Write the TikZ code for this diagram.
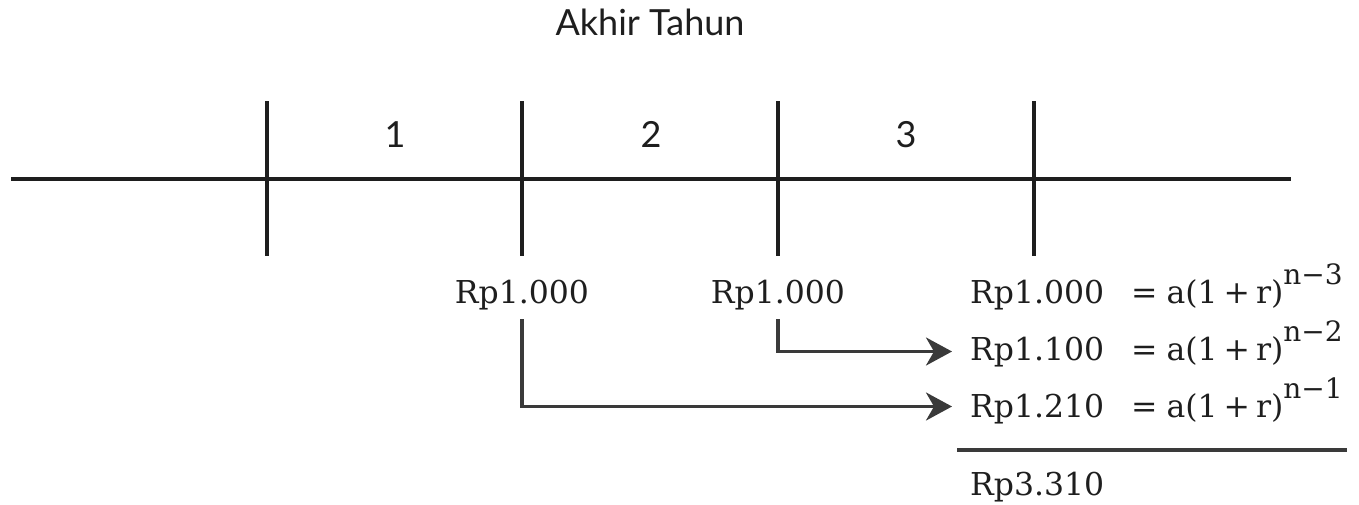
\documentclass[tikz,border=0pt]{standalone}
\usepackage{fontspec}
\usetikzlibrary{arrows.meta}
\newfontfamily\latof{Lato}
\newfontfamily\rpf{DejaVu Serif}
\definecolor{lin}{HTML}{1E1E1E}
\definecolor{arr}{HTML}{3A3A3A}
\definecolor{txt}{HTML}{1E1E1E}
\newcommand{\supx}[1]{\raisebox{19pt}{\fontsize{28}{28}\selectfont #1}}
\begin{document}
\begin{tikzpicture}[x=1pt,y=-1pt,
  tl/.style={line width=3.2pt,draw=lin},
  conn/.style={line width=3.2pt,draw=arr,-{Stealth[length=26pt,width=28pt,inset=8pt]}},
  head/.style={font=\latof\fontsize{36}{36}\selectfont,text=txt,inner sep=0,anchor=base},
  val/.style={font=\rpf\fontsize{31.5}{31.5}\selectfont,text=txt,inner sep=0,text height=23pt,text depth=0pt,anchor=base west},
  valc/.style={val,anchor=base},
  eq/.style={font=\rpf\fontsize{31.5}{31.5}\selectfont,text=txt,inner sep=0,anchor=base west}]
\useasboundingbox (0,0) rectangle (1359,504);
% title
\node[head] (title) at (650,35) {Akhir Tahun};
% timeline
\coordinate (L) at (11,179);
\coordinate (R) at (1291,179);
\draw[tl] (L) -- (R);
\foreach \n/\x in {t0/267,t1/522,t2/778,t3/1034}{
  \coordinate (\n a) at (\x,101);
  \coordinate (\n b) at (\x,256);
  \draw[tl] (\n a) -- (\n b);
}
\node[head] (y1) at (395,147) {1};
\node[head] (y2) at (651,147) {2};
\node[head] (y3) at (906,147) {3};
% values
\node[valc] (p1) at (522,303) {Rp1.000};
\node[valc] (p2) at (778,303) {Rp1.000};
\node[val] (v0) at (970,303) {Rp1.000};
\node[val] (v1) at (970,360) {Rp1.100};
\node[val] (v2) at (970,417) {Rp1.210};
\node[val] (v3) at (970,495) {Rp3.310};
\node[eq] (e0) at (1131,303) {=\hspace{9pt}a(1\hspace{6pt}+\hspace{6pt}r)\supx{n−3}};
\node[eq] (e1) at (1131,360) {=\hspace{9pt}a(1\hspace{6pt}+\hspace{6pt}r)\supx{n−2}};
\node[eq] (e2) at (1131,417) {=\hspace{9pt}a(1\hspace{6pt}+\hspace{6pt}r)\supx{n−1}};
% connectors
\draw[conn] ([yshift=-16pt]p2.south) |- ([xshift=-18pt,yshift=-3pt]v1.west);
\draw[conn] ([yshift=-16pt]p1.south) |- ([xshift=-18pt,yshift=-1pt]v2.west);
% sum rule
\coordinate (s0) at (957,450);
\coordinate (s1) at (1347,450);
\draw[line width=3.2pt,draw=arr] (s0) -- (s1);
\end{tikzpicture}
\end{document}
